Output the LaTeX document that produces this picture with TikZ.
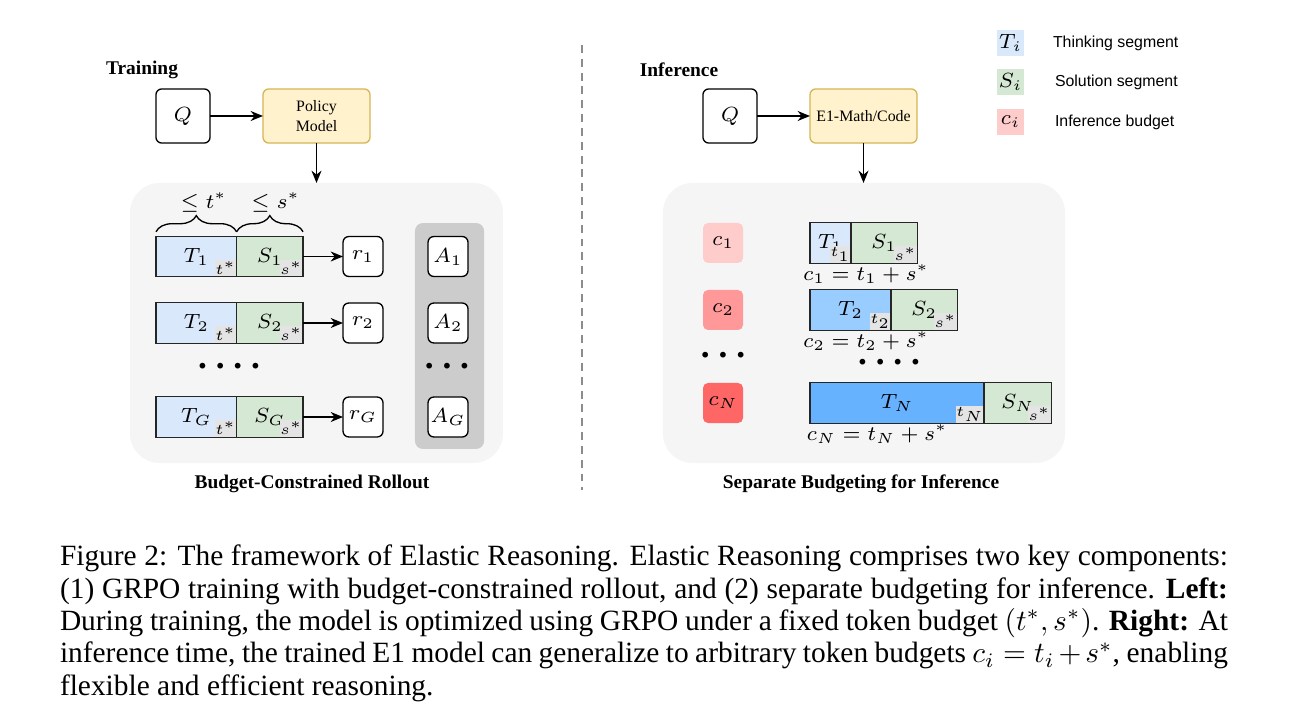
\documentclass[tikz,border=0pt]{standalone}
\usepackage{amsmath,amssymb}
\usepackage{fontspec}
\setmainfont{Liberation Serif}
\newfontfamily\legendfont{Liberation Sans}
\usetikzlibrary{arrows.meta,decorations.pathreplacing}
\definecolor{panelgray}{HTML}{F5F5F5}
\definecolor{colgray}{HTML}{CCCCCC}
\definecolor{policyfill}{HTML}{FFF2CC}
\definecolor{policyline}{HTML}{D6B656}
\definecolor{thinkfill}{HTML}{DAE8FC}
\definecolor{thinkmid}{HTML}{99CCFF}
\definecolor{thinkdark}{HTML}{66B2FF}
\definecolor{solfill}{HTML}{D5E8D4}
\definecolor{budgetA}{HTML}{FFCCCC}
\definecolor{budgetB}{HTML}{FF9999}
\definecolor{budgetC}{HTML}{FF6666}
\definecolor{cornergray}{HTML}{E4E4E4}
\begin{document}
\begin{tikzpicture}[x=0.34pt,y=-0.34pt]
\tikzstyle{every node}+=[inner sep=0pt, outer sep=0pt]
\tikzstyle{title}=[font=\fontsize{6.6}{8}\selectfont\bfseries]
\tikzstyle{panel}=[fill=panelgray, rounded corners=10pt]
\tikzstyle{qbox}=[draw=black, line width=0.45pt, rounded corners=2pt, fill=white, minimum width=18.4pt, minimum height=18.4pt, font=\fontsize{7.4}{9}\selectfont]
\tikzstyle{model}=[draw=policyline, fill=policyfill, line width=0.45pt, rounded corners=2pt, minimum width=36.4pt, minimum height=18.4pt, align=center, font=\fontsize{5.4}{6.6}\selectfont]
\tikzstyle{seg}=[draw=black!85, line width=0.45pt, minimum height=13.8pt, anchor=west, font=\fontsize{7}{8}\selectfont]
\tikzstyle{corner}=[fill=cornergray, minimum width=6.4pt, minimum height=5.6pt, anchor=south east, font=\fontsize{5}{6}\selectfont]
\tikzstyle{small}=[draw=black, line width=0.45pt, rounded corners=2pt, fill=white, minimum width=13.6pt, minimum height=13.6pt, font=\fontsize{7.2}{8}\selectfont]
\tikzstyle{budget}=[rounded corners=1.7pt, minimum width=13.6pt, minimum height=13.6pt, font=\fontsize{7.2}{8}\selectfont]
\tikzstyle{arr}=[-{Stealth[length=4.2pt,width=3.4pt]}, line width=0.5pt]
\tikzstyle{dots}=[font=\fontsize{12}{12}\selectfont\bfseries]
\tikzstyle{legbox}=[minimum width=9.2pt, minimum height=8.8pt, font=\fontsize{6.8}{8}\selectfont]
\tikzstyle{legtext}=[anchor=west, font=\legendfont\fontsize{5.4}{6.4}\selectfont]
\tikzstyle{eq}=[font=\fontsize{6.6}{8}\selectfont]
\tikzstyle{bracket}=[decorate, decoration={brace, amplitude=5.5pt}, line width=0.45pt]
\useasboundingbox (0,0) rectangle (1292,728);
\node[panel, minimum width=126.8pt, minimum height=95.2pt] (panelL) at (316.5,323) {};
\node[panel, minimum width=136.7pt, minimum height=95.2pt] (panelR) at (864,323) {};
\node[fill=colgray, rounded corners=2.7pt, minimum width=23.5pt, minimum height=76.8pt] (acol) at (449.5,336) {};
\node[title] (train) at (142,70) {Training};
\node[qbox] (qL) at (183,116) {$Q$};
\node[model] (pm) at (316.5,116) {Policy\\Model};
\draw[arr] (qL) -- (pm);
\draw[arr] (pm.south) -- (pm.south |- panelL.north);
\node[seg, fill=thinkfill, minimum width=27.4pt] (t1) at (156,256.5) {$T_1$};
\node[seg, fill=solfill, minimum width=22.6pt] (s1) at (t1.east) {$S_1$};
\node[corner] (t1c) at ([xshift=-0.25pt,yshift=0.25pt]t1.south east) {$t^*$};
\node[corner] (s1c) at ([xshift=-0.25pt,yshift=0.25pt]s1.south east) {$s^*$};
\node[seg, fill=thinkfill, minimum width=27.4pt] (t2) at (156,323) {$T_2$};
\node[seg, fill=solfill, minimum width=22.6pt] (s2) at (t2.east) {$S_2$};
\node[corner] (t2c) at ([xshift=-0.25pt,yshift=0.25pt]t2.south east) {$t^*$};
\node[corner] (s2c) at ([xshift=-0.25pt,yshift=0.25pt]s2.south east) {$s^*$};
\node[seg, fill=thinkfill, minimum width=27.4pt] (tG) at (156,417) {$T_G$};
\node[seg, fill=solfill, minimum width=22.6pt] (sG) at (tG.east) {$S_G$};
\node[corner] (tGc) at ([xshift=-0.25pt,yshift=0.25pt]tG.south east) {$t^*$};
\node[corner] (sGc) at ([xshift=-0.25pt,yshift=0.25pt]sG.south east) {$s^*$};
\draw[bracket] ([yshift=1.5pt]t1.north west) -- ([yshift=1.5pt]t1.north east) node[midway, above=6.5pt, xshift=2.5pt, eq] (bt) {$\leq t^*$};
\draw[bracket] ([yshift=1.5pt]s1.north west) -- ([yshift=1.5pt]s1.north east) node[midway, above=6.5pt, xshift=2pt, eq] (bs) {$\leq s^*$};
\node[small] (r1) at (363,256.5) {$r_1$};
\node[small] (r2) at (363,323) {$r_2$};
\node[small] (rG) at (363,417) {$r_G$};
\draw[arr] (s1) -- (r1);
\draw[arr] (s2) -- (r2);
\draw[arr] (sG) -- (rG);
\node[small] (a1) at (448,256.5) {$A_1$};
\node[small] (a2) at (448,323) {$A_2$};
\node[small] (aG) at (448,417) {$A_G$};
\node[dots] (dotsL) at (229,366) {.\hspace{3pt}.\hspace{3pt}.\hspace{3pt}.};
\node[dots] (dotsA) at (447,366) {.\hspace{3pt}.\hspace{3pt}.};
\node[title] (capL) at (312,484) {Budget-Constrained Rollout};
\coordinate (divtop) at (582,45);
\coordinate (divbot) at (582,490);
\draw[dash pattern=on 2.7pt off 2pt, line width=0.6pt, black!45] (divtop) -- (divbot);
\node[title] (infer) at (679,70) {Inference};
\node[qbox] (qR) at (730,116) {$Q$};
\node[model] (e1) at (863.5,116) {E1-Math/Code};
\draw[arr] (qR) -- (e1);
\draw[arr] (e1.south) -- (e1.south |- panelR.north);
\node[budget, fill=budgetA] (c1) at (723,243) {$c_1$};
\node[budget, fill=budgetB] (c2) at (723,310) {$c_2$};
\node[budget, fill=budgetC] (cN) at (723,403) {$c_N$};
\node[dots] (dotsC) at (723,355) {.\hspace{3pt}.\hspace{3pt}.};
\node[seg, fill=thinkfill, minimum width=13.9pt] (u1) at (810,243) {$T_1$};
\node[seg, fill=solfill, minimum width=22.6pt] (v1) at (u1.east) {$S_1$};
\node[corner] (u1c) at ([xshift=-0.25pt,yshift=0.25pt]u1.south east) {$t_1$};
\node[corner] (v1c) at ([xshift=-0.25pt,yshift=0.25pt]v1.south east) {$s^*$};
\node[seg, fill=thinkmid, minimum width=27.5pt] (u2) at (810,310) {$T_2$};
\node[seg, fill=solfill, minimum width=22.6pt] (v2) at (u2.east) {$S_2$};
\node[corner] (u2c) at ([xshift=-0.25pt,yshift=0.25pt]u2.south east) {$t_2$};
\node[corner] (v2c) at ([xshift=-0.25pt,yshift=0.25pt]v2.south east) {$s^*$};
\node[seg, fill=thinkdark, minimum width=59.2pt] (uN) at (810,403) {$T_N$};
\node[seg, fill=solfill, minimum width=22.8pt] (vN) at (uN.east) {$S_N$};
\node[corner] (uNc) at ([xshift=-0.25pt,yshift=0.25pt]uN.south east) {$t_N$};
\node[corner] (vNc) at ([xshift=-0.25pt,yshift=0.25pt]vN.south east) {$s^*$};
\node[eq] (eq1) at (866,274) {$c_1 = t_1 + s^*$};
\node[eq] (eq2) at (866,341) {$c_2 = t_2 + s^*$};
\node[eq] (eqN) at (877,434) {$c_N = t_N + s^*$};
\node[dots] (dotsR) at (889,362) {.\hspace{3pt}.\hspace{3pt}.\hspace{3pt}.};
\node[title] (capR) at (861,484) {Separate Budgeting for Inference};
\node[legbox, fill=thinkfill] (legT) at (1010.5,43) {$T_i$};
\node[legbox, fill=solfill] (legS) at (1010.5,82) {$S_i$};
\node[legbox, fill=budgetA] (legC) at (1010.5,122) {$c_i$};
\node[legtext] (legTt) at (1053,43) {Thinking segment};
\node[legtext] (legSt) at (1055,82) {Solution segment};
\node[legtext] (legCt) at (1055,122) {Inference budget};
\node[anchor=north west, text width=397.1pt, align=justify, font=\fontsize{10}{11}\selectfont] (caption) at (60,545) {Figure 2: The framework of Elastic Reasoning. Elastic Reasoning comprises two key components:\linebreak (1) GRPO training with budget-constrained rollout, and (2) separate budgeting for inference. \textbf{Left:}\linebreak During training, the model is optimized using GRPO under a fixed token budget $(t^*, s^*)$. \textbf{Right:} At\linebreak inference time, the trained E1 model can generalize to arbitrary token budgets $c_i = t_i + s^*$, enabling\linebreak flexible and efficient reasoning.};
\end{tikzpicture}
\end{document}
